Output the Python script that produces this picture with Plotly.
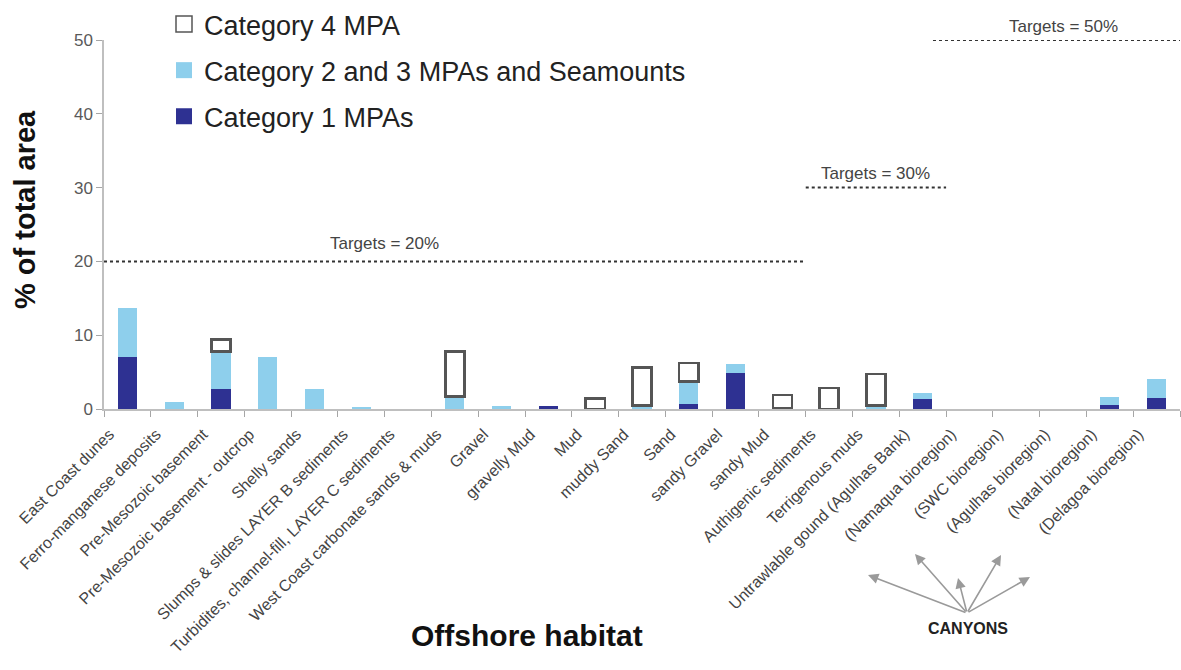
import plotly.graph_objects as go

categories = [
    "East Coast dunes", "Ferro-manganese deposits", "Pre-Mesozoic basement",
    "Pre-Mesozoic basement - outcrop", "Shelly sands", "Slumps & slides LAYER B sediments",
    "Turbidites, channel-fill, LAYER C sediments", "West Coast carbonate sands & muds",
    "Gravel", "gravelly Mud", "Mud", "muddy Sand", "Sand", "sandy Gravel", "sandy Mud",
    "Authigenic sediments", "Terrigenous muds", "Untrawlable gound (Agulhas Bank)",
    "(Namaqua bioregion)", "(SWC bioregion)", "(Agulhas bioregion)", "(Natal bioregion)",
    "(Delagoa bioregion)",
]
cat1 = [7.05, None, 2.7, None, None, None, None, None, None, 0.45, None, None, 0.7, 4.9,
        None, None, None, 1.4, None, None, None, 0.5, 1.5]
cat23 = [6.65, 0.9, 5.1, 7.05, 2.7, 0.3, None, 1.7, 0.35, None, None, 0.45, 3.0, 1.2,
         0.15, None, 0.5, 0.75, None, None, None, 1.1, 2.5]
cat4 = [None, None, 1.6, None, None, None, None, 6.1, None, None, 1.4, 5.15, 2.5, None,
        1.75, 2.85, 4.25, None, None, None, None, None, None]

target_values = [20, 30, 50]
target_first = [0, 15, 18]
target_last = [14, 17, 22]
target_labels = ["Targets = 20%", "Targets = 30%", "Targets = 50%"]

FONT = "Arial, 'Liberation Sans', sans-serif"
DARK = "#2e3192"
LIGHT = "#8ecfec"
BOX = "#555555"

fig = go.Figure()
fig.add_trace(go.Bar(x=categories, y=cat1, marker=dict(color=DARK, line=dict(width=0)),
                     showlegend=False, name="Category 1 MPAs"))
fig.add_trace(go.Bar(x=categories, y=cat23, marker=dict(color=LIGHT, line=dict(width=0)),
                     showlegend=False, name="Category 2 and 3 MPAs and Seamounts"))
fig.add_trace(go.Bar(x=categories, y=cat4,
                     marker=dict(color="rgba(255,255,255,1)", line=dict(width=2.5, color=BOX)),
                     showlegend=False, name="Category 4 MPA"))

legend_items = [("Category 4 MPA", "white", BOX, 1.5),
                ("Category 2 and 3 MPAs and Seamounts", LIGHT, LIGHT, 0),
                ("Category 1 MPAs", DARK, DARK, 0)]
for i, (nm, fc, lc, lw) in enumerate(legend_items):
    fig.add_trace(go.Scatter(x=[None], y=[None], mode="markers", name=nm,
                             legendgroup="g%d" % i,
                             marker=dict(symbol="square", size=16, color=fc,
                                         line=dict(width=lw, color=lc))))

shapes = []
annotations = []
label_x = [5.5, 16.0, 20.0]
label_shift = [18, 14, 14]
for v, a, b, lab, lx, ls in zip(target_values, target_first, target_last, target_labels,
                                label_x, label_shift):
    x0 = a - 0.5
    if v == 50:
        x0 = a - 0.78
    shapes.append(dict(type="line", xref="x", yref="y", x0=x0, x1=b + 0.5, y0=v, y1=v,
                       line=dict(color="#333333", width=2, dash="dot")))
    annotations.append(dict(x=lx, y=v, xref="x", yref="y", text=lab, showarrow=False,
                            xanchor="center", yanchor="middle", yshift=ls,
                            font=dict(size=17, color="#444444", family=FONT)))

# pixel geometry of the plot area
W, H, L, T = 1076.0, 369.0, 104.0, 40.0
def px(xp):
    return (xp - L) / W
def py(yp):
    return (T + H - yp) / H

annotations.append(dict(x=px(25), y=py(210), xref="paper", yref="paper",
                        text="<b>% of total area</b>", textangle=-90, showarrow=False,
                        xanchor="center", yanchor="middle",
                        font=dict(size=29, color="#111111", family=FONT)))
annotations.append(dict(x=px(527), y=py(635), xref="paper", yref="paper",
                        text="<b>Offshore habitat</b>", showarrow=False,
                        xanchor="center", yanchor="middle",
                        font=dict(size=30, color="#111111", family=FONT)))

tail = (967, 613)
heads = [(868, 575), (915, 554), (958, 578), (1001, 555), (1030, 577)]
for hx, hy in heads:
    annotations.append(dict(x=px(hx), y=py(hy), xref="paper", yref="paper", text="",
                            showarrow=True, ax=tail[0] - hx, ay=tail[1] - hy,
                            arrowhead=2, arrowsize=1.3, arrowwidth=1.6, arrowcolor="#9a9a9a"))
annotations.append(dict(x=px(968), y=py(628), xref="paper", yref="paper", text="<b>CANYONS</b>",
                        showarrow=False, xanchor="center", yanchor="middle",
                        font=dict(size=16, color="#222222", family=FONT)))

fig.update_layout(
    width=1181, height=670,
    margin=dict(l=104, r=1, t=40, b=261, autoexpand=False),
    paper_bgcolor="white", plot_bgcolor="white",
    barmode="stack", bargap=0.59,
    font=dict(family=FONT),
    shapes=shapes, annotations=annotations,
    legend=dict(x=px(164), y=py(0), xanchor="left", yanchor="top",
                font=dict(size=27, color="#222222", family=FONT),
                tracegroupgap=8, bgcolor="rgba(0,0,0,0)"),
    xaxis=dict(type="category", tickson="boundaries", ticks="outside", ticklen=6,
               tickcolor="#a6a6a6", showline=True, linecolor="#bfbfbf", linewidth=1.5,
               tickangle=-45, tickfont=dict(size=16, color="#444444", family=FONT),
               ticklabelshift=-18, ticklabelstandoff=8,
               showgrid=False, automargin=False, range=[-0.5, 22.5]),
    yaxis=dict(range=[0, 50], tickvals=[0, 10, 20, 30, 40, 50], ticks="outside", ticklen=6,
               tickcolor="#a6a6a6", showline=True, linecolor="#bfbfbf", linewidth=1.5,
               tickfont=dict(size=17, color="#595959", family=FONT), showgrid=False,
               zeroline=False, automargin=False),
)

fig.write_html("out.html", config={"displayModeBar": False},
               post_script="document.body.style.margin='0px';")
